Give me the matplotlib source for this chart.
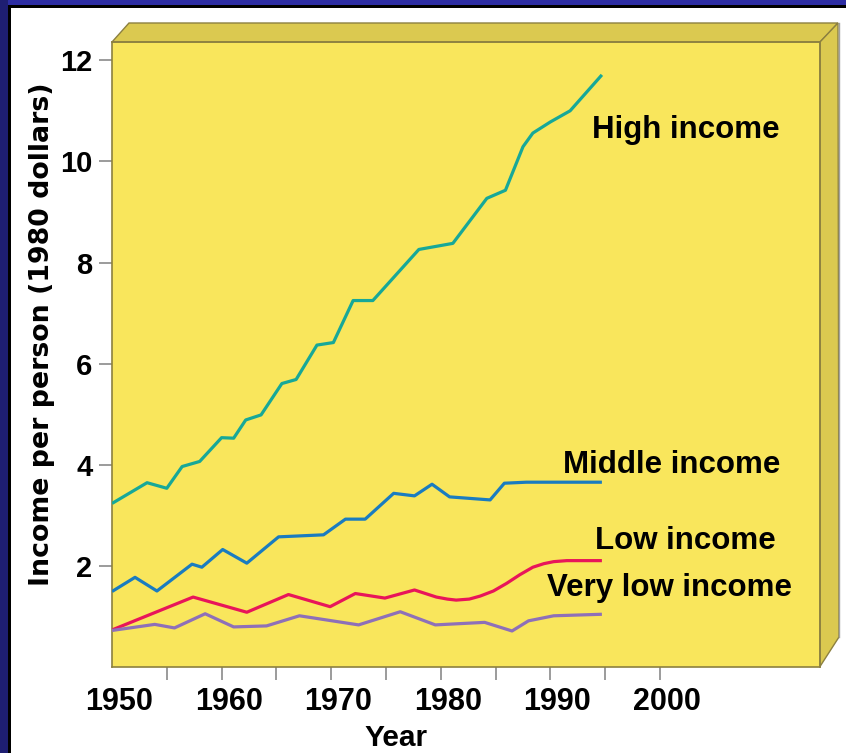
import matplotlib
matplotlib.use("Agg")
import matplotlib.pyplot as plt
from matplotlib.patches import Polygon, Rectangle
from matplotlib.transforms import ScaledTranslation

# ---------------- data ----------------
high_years = [1950, 1953.2, 1955, 1956.4, 1958, 1960, 1961.1, 1962.2, 1963.6, 1965.5,
              1966.8, 1968.7, 1970.2, 1972, 1973.8, 1978, 1981.1, 1984.2, 1985.9,
              1987.5, 1988.4, 1990, 1991.8, 1994.7]
high_vals = [3.24, 3.65, 3.54, 3.97, 4.07, 4.54, 4.53, 4.89, 4.99, 5.61,
             5.69, 6.37, 6.42, 7.25, 7.25, 8.26, 8.38, 9.27, 9.43,
             10.29, 10.56, 10.78, 11.0, 11.71]

mid_years = [1950, 1952.1, 1954.1, 1957.3, 1958.2, 1960.1, 1962.3, 1965.2, 1969.3,
             1971.3, 1973.1, 1975.7, 1977.6, 1979.2, 1980.8, 1984.5, 1985.8,
             1987.8, 1994.7]
mid_vals = [1.50, 1.78, 1.51, 2.04, 1.98, 2.33, 2.06, 2.58, 2.62,
            2.93, 2.93, 3.44, 3.39, 3.62, 3.37, 3.31, 3.64,
            3.66, 3.66]

low_years = [1950, 1957.4, 1962.3, 1966.1, 1969.9, 1972.2, 1974.9, 1977.6, 1979.6,
             1980.6, 1981.4, 1982.6, 1983.6, 1984.8, 1986.0, 1987.2, 1988.4, 1989.4,
             1990.3, 1991.5, 1994.7]
low_vals = [0.74, 1.39, 1.09, 1.44, 1.20, 1.46, 1.37, 1.53, 1.39,
            1.35, 1.33, 1.35, 1.41, 1.51, 1.66, 1.83, 1.98, 2.05,
            2.09, 2.11, 2.11]

vlow_years = [1950, 1953.9, 1955.7, 1958.5, 1961.1, 1964.1, 1967.1, 1972.5, 1976.3,
              1979.5, 1984.0, 1986.5, 1988.0, 1990.3, 1994.7]
vlow_vals = [0.73, 0.85, 0.78, 1.06, 0.80, 0.82, 1.02, 0.84, 1.10,
             0.84, 0.89, 0.72, 0.92, 1.02, 1.05]

series_names = ["High income", "Middle income", "Low income", "Very low income"]
series_colors = ["#17A898", "#1A7CC0", "#E8155A", "#8E70B8"]
label_pos = [(1993.8, 10.46), (1991.15, 3.84), (1994.07, 2.34), (1989.7, 1.41)]

x_ticks = [1950, 1960, 1970, 1980, 1990, 2000]
x_minor = [1955, 1965, 1975, 1985, 1995]
y_ticks = [2, 4, 6, 8, 10, 12]

# ---------------- figure ----------------
W, H = 846, 753
fig = plt.figure(figsize=(W / 100, H / 100), dpi=100, facecolor="white")

ax_left, ax_right, ax_top, ax_bot = 112, 820, 42, 667.4
ax = fig.add_axes([ax_left / W, (H - ax_bot) / H, (ax_right - ax_left) / W, (ax_bot - ax_top) / H])
ax.set_facecolor("#F9E65C")

FONT = ["Liberation Sans", "DejaVu Sans"]

for yrs, vals, c in zip([high_years, mid_years, low_years, vlow_years],
                        [high_vals, mid_vals, low_vals, vlow_vals], series_colors):
    ax.plot(yrs, vals, color=c, lw=2.3, solid_joinstyle="round", solid_capstyle="butt", zorder=3)

for name, (lx, ly) in zip(series_names, label_pos):
    ax.text(lx, ly, name, ha="left", va="baseline", fontsize=22.5, fontweight="bold",
            family=FONT, color="black", zorder=4)

ax.set_xlim(1950, 2014.6)
ax.set_ylim(0, (ax_bot - ax_top) / 50.6)

ax.set_xticks(x_ticks)
ax.set_xticks(x_minor, minor=True)
ax.set_yticks(y_ticks)
ax.set_xticklabels([str(t) for t in x_ticks])
ax.set_yticklabels([str(t) for t in y_ticks])
ax.tick_params(axis="x", which="both", direction="out", length=9, width=1.2, color="#8A8A8A",
               pad=5)
ax.tick_params(axis="y", which="major", direction="out", length=9.5, width=1.2, color="#8A8A8A",
               pad=4.5)
ax.xaxis.get_major_ticks()[0].tick1line.set_visible(False)
for lab in ax.get_xticklabels():
    lab.set_fontsize(22)
    lab.set_family(FONT)
    lab.set_fontweight("bold")
    lab.set_transform(lab.get_transform() + ScaledTranslation(7 / 100, 0, fig.dpi_scale_trans))
for lab in ax.get_yticklabels():
    lab.set_fontsize(21)
    lab.set_family(FONT)
    lab.set_fontweight("bold")

for s in ["top", "right"]:
    ax.spines[s].set_visible(False)
for s in ["left", "bottom"]:
    ax.spines[s].set_color("#8C8040")
    ax.spines[s].set_linewidth(1.2)

ax.set_xlabel("Year", fontsize=21.5, family=FONT, fontweight="bold")
ax.xaxis.set_label_coords((396 - ax_left) / (ax_right - ax_left), (ax_bot - 746) / (ax_bot - ax_top),
                          transform=ax.transAxes)
ax.xaxis.label.set_va("baseline")
ax.set_ylabel("Income per person (1980 dollars)", fontsize=19.3, fontweight="bold",
              family=["DejaVu Sans"])
ax.yaxis.set_label_coords((42 - ax_left) / (ax_right - ax_left), (ax_bot - 334) / (ax_bot - ax_top),
                          transform=ax.transAxes)
ax.yaxis.label.set_va("center")


# ---------------- 3D box decoration (pixel -> axes fraction) ----------------
def to_ax(px, py):
    return ((px - ax_left) / (ax_right - ax_left), (ax_bot - py) / (ax_bot - ax_top))


face = "#DBC950"
edge = "#8C8040"
top_face = [to_ax(112, 42), to_ax(129, 23), to_ax(838, 23), to_ax(820, 42)]
right_face = [to_ax(820, 42), to_ax(838, 23), to_ax(839, 637), to_ax(820, 666.5)]
for poly in (top_face, right_face):
    ax.add_patch(Polygon(poly, closed=True, facecolor=face, edgecolor=edge, lw=1.0,
                         transform=ax.transAxes, clip_on=False, zorder=1))
# front edges of the box
ax.plot([0, 1, 1], [1, 1, 0], transform=ax.transAxes, color=edge, lw=1.2, clip_on=False, zorder=2)
ax.plot([to_ax(839, 637)[0], to_ax(839, 23)[0]], [to_ax(839, 637)[1], to_ax(839, 23)[1]],
        transform=ax.transAxes, color="#A0A0A0", lw=1.0, clip_on=False, zorder=1)

# ---------------- frame of the slide ----------------
fig.add_artist(Rectangle((0, (H - 5) / H), 1, 5 / H, transform=fig.transFigure,
                         facecolor="#2D2DA3", edgecolor="none", zorder=0))
fig.add_artist(Rectangle((8 / W, (H - 8) / H), 1, 3 / H, transform=fig.transFigure,
                         facecolor="black", edgecolor="none", zorder=0))
fig.add_artist(Rectangle((0, 0), 8 / W, 1, transform=fig.transFigure,
                         facecolor="#1E1E72", edgecolor="none", zorder=0))
fig.add_artist(Rectangle((8 / W, 0), 3 / W, (H - 5) / H, transform=fig.transFigure,
                         facecolor="black", edgecolor="none", zorder=0))

fig.savefig("out.png", dpi=100, facecolor="white")
